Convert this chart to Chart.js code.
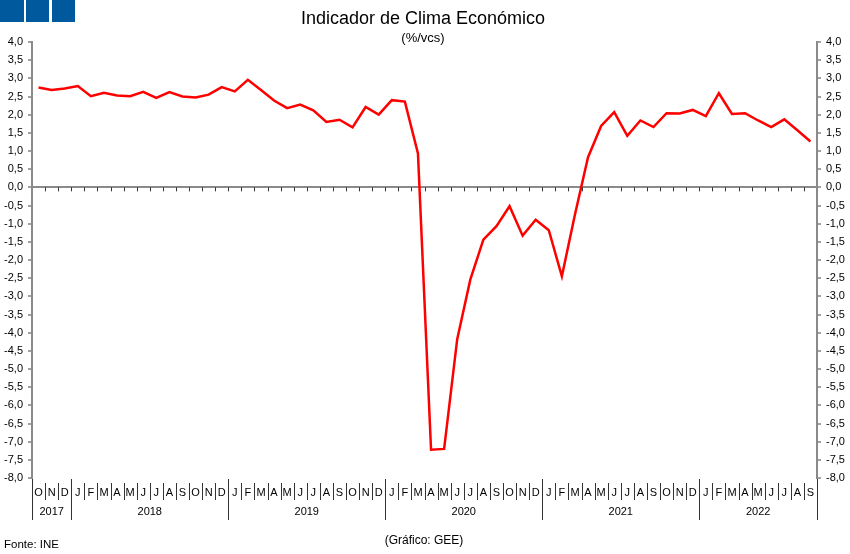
<!DOCTYPE html>
<html>
<head>
<meta charset="utf-8">
<title>Indicador de Clima Económico</title>
<script src="https://cdn.jsdelivr.net/npm/chart.js@4.4.0/dist/chart.umd.min.js"></script>
<style>
    body { margin: 0; background: #fff; font-family: "Liberation Sans", Arial, sans-serif; }
    #wrap { position: relative; width: 850px; height: 554px; overflow: hidden; }
    #chart { position: absolute; left: 0; top: 0; }
    .sq { position: absolute; top: 0; height: 22px; background: #00589d; }
    #title { position: absolute; top: 8px; left: 0; width: 846px; text-align: center; font-size: 18px; color: #000; }
    #subtitle { position: absolute; top: 30px; left: 0; width: 846px; text-align: center; font-size: 13px; color: #000; }
    #source { position: absolute; top: 538px; left: 4px; font-size: 11.5px; color: #000; }
    #credit { position: absolute; top: 533px; left: 0; width: 848px; text-align: center; font-size: 12px; color: #000; }
</style>
</head>
<body>
<div id="wrap">
    <canvas id="chart" width="850" height="554"></canvas>
    <div class="sq" style="left:0;width:24px"></div>
    <div class="sq" style="left:26px;width:23px"></div>
    <div class="sq" style="left:52px;width:23px"></div>
    <div id="title">Indicador de Clima Económico</div>
    <div id="subtitle">(%/vcs)</div>
    <div id="source">Fonte: INE</div>
    <div id="credit">(Gráfico: GEE)</div>
</div>
<script>
// Monthly data, Oct 2017 - Sep 2022
const months = [
    'O', 'N', 'D',
    'J', 'F', 'M', 'A', 'M', 'J', 'J', 'A', 'S', 'O', 'N', 'D',
    'J', 'F', 'M', 'A', 'M', 'J', 'J', 'A', 'S', 'O', 'N', 'D',
    'J', 'F', 'M', 'A', 'M', 'J', 'J', 'A', 'S', 'O', 'N', 'D',
    'J', 'F', 'M', 'A', 'M', 'J', 'J', 'A', 'S', 'O', 'N', 'D',
    'J', 'F', 'M', 'A', 'M', 'J', 'J', 'A', 'S'
];
const values = [
    2.75, 2.68, 2.72,
    2.79, 2.51, 2.60, 2.53, 2.51, 2.63, 2.46, 2.62, 2.50, 2.47, 2.55, 2.76,
    2.64, 2.96, 2.68, 2.39, 2.18, 2.28, 2.12, 1.80, 1.86, 1.65, 2.21, 2.00,
    2.40, 2.36, 0.93, -7.22, -7.20, -4.18, -2.54, -1.44, -1.07, -0.52, -1.33, -0.89,
    -1.18, -2.45, -0.75, 0.83, 1.69, 2.07, 1.42, 1.84, 1.66, 2.04, 2.03, 2.13,
    1.96, 2.59, 2.02, 2.04, 1.84, 1.66, 1.87, 1.57, 1.26
];
const years = ['2017', '2018', '2019', '2020', '2021', '2022'];
const monthsPerYear = [3, 12, 12, 12, 12, 9];
const yMin = -8;
const yMax = 4;
const yStep = 0.5;

const FONT = '"Liberation Sans", Arial, sans-serif';
Chart.defaults.font.family = FONT;
Chart.defaults.color = '#000';

function fmt(v) {
    return v.toFixed(1).replace('.', ',');
}

function yAxis(pos) {
    return {
        position: pos,
        min: yMin,
        max: yMax,
        afterFit: function(scale) {
            scale.width = pos === 'left' ? 32 : 33;
        },
        border: { display: true, color: '#8a8a8a', width: 2 },
        grid: {
            drawOnChartArea: pos === 'left',
            color: function(c) {
                return c.tick && Math.abs(c.tick.value) < 1e-9 ? '#8a8a8a' : 'rgba(0,0,0,0)';
            },
            lineWidth: 2,
            tickLength: 4,
            tickColor: '#444',
            tickWidth: 1
        },
        ticks: {
            stepSize: yStep,
            autoSkip: false,
            padding: 5,
            font: { size: 11 },
            callback: function(value) { return fmt(value); }
        }
    };
}

// month / year separators under the plot, and small ticks on the zero line
const axisDecor = {
    id: 'axisDecor',
    afterDraw(chart) {
        const { ctx, chartArea } = chart;
        const x = chart.scales.x;
        const y = chart.scales.y;
        const bottom = chartArea.bottom;
        const y0 = y.getPixelForValue(0);

        const yearStarts = new Set([0]);
        let acc = 0;
        monthsPerYear.forEach(n => { acc += n; yearStarts.add(acc); });

        ctx.save();
        ctx.strokeStyle = '#333';
        ctx.lineWidth = 1;
        ctx.beginPath();
        for (let k = 1; k < months.length; k++) {
            const px = Math.round(x.getPixelForValue(k - 0.5)) + 0.5;
            ctx.moveTo(px, y0);
            ctx.lineTo(px, y0 + 4);
        }
        for (let k = 0; k <= months.length; k++) {
            const px = Math.round(x.getPixelForValue(k - 0.5)) + 0.5;
            const long = yearStarts.has(k);
            ctx.moveTo(px, bottom + (long ? 1 : 5));
            ctx.lineTo(px, bottom + (long ? 42 : 22));
        }
        ctx.stroke();

        ctx.fillStyle = '#000';
        ctx.font = '11px ' + FONT;
        ctx.textAlign = 'center';
        ctx.textBaseline = 'middle';
        let start = 0;
        years.forEach((yr, i) => {
            const end = start + monthsPerYear[i];
            const cx = (x.getPixelForValue(start - 0.5) + x.getPixelForValue(end - 0.5)) / 2;
            ctx.fillText(yr, cx, bottom + 34);
            start = end;
        });
        ctx.restore();
    }
};

new Chart(document.getElementById('chart').getContext('2d'), {
    type: 'line',
    data: {
        labels: months,
        datasets: [{
            label: 'Indicador de Clima Económico',
            data: values,
            borderColor: '#ff0000',
            borderWidth: 2.5,
            pointRadius: 0,
            tension: 0,
            fill: false,
            yAxisID: 'y'
        }]
    },
    options: {
        responsive: false,
        animation: false,
        layout: { padding: { top: 42, bottom: 0, left: 0, right: 0 } },
        plugins: {
            legend: { display: false },
            tooltip: { enabled: false },
            title: { display: false }
        },
        scales: {
            x: {
                type: 'category',
                offset: true,
                afterFit: function(scale) { scale.height = 76; },
                grid: { display: false, drawTicks: false },
                border: { display: false },
                ticks: {
                    autoSkip: false,
                    maxRotation: 0,
                    minRotation: 0,
                    padding: 8,
                    font: { size: 11 }
                }
            },
            y: yAxis('left'),
            y2: yAxis('right')
        }
    },
    plugins: [axisDecor]
});
</script>
</body>
</html>
